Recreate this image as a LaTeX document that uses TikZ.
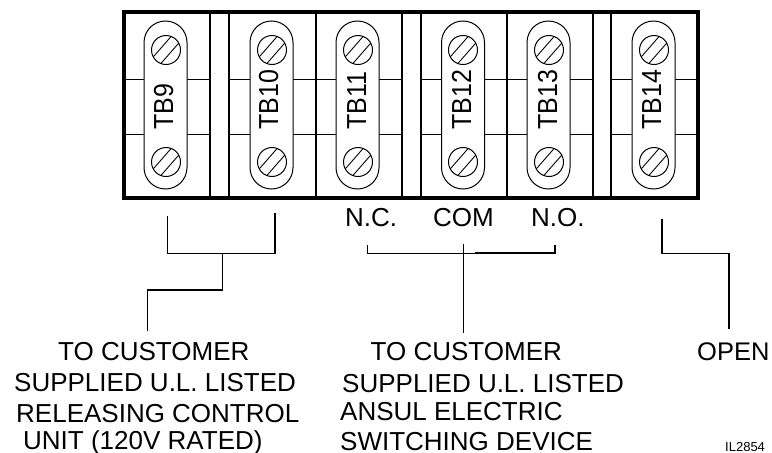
\documentclass[tikz,border=0pt]{standalone}
\usepackage{fontspec}
\setmainfont{Liberation Sans}
\tikzset{
  frameline/.style={line width=4pt},
  divider/.style={line width=1.4pt},
  rowline/.style={line width=1pt},
  wire/.style={line width=1.3pt},
  strap/.style={draw,fill=white,line width=1pt,minimum width=43pt,minimum height=168pt,inner sep=0pt,rounded corners=21.5pt},
  screw/.style={circle,draw,line width=1pt,minimum size=29pt,inner sep=0pt,
    path picture={
      \draw[line width=0.9pt] ([xshift=-3.9pt,yshift=3.2pt]path picture bounding box.center) ++(-14pt,-16pt) -- ++(28pt,32pt);
      \draw[line width=0.9pt] ([xshift=3.9pt,yshift=-3.2pt]path picture bounding box.center) ++(-14pt,-16pt) -- ++(28pt,32pt);
    }},
  tblabel/.style={rotate=90,yscale=1.1,transform shape,anchor=base west,inner sep=0pt,font=\fontsize{25}{28}\selectfont},
  txt/.style={anchor=base west,inner sep=0pt,font=\fontsize{26}{28}\selectfont},
}
\begin{document}
\begin{tikzpicture}[x=1pt,y=-1pt]
\useasboundingbox (0,0) rectangle (772,453);

% rows and dividers
\draw[rowline] (123.5,79.5) -- (210,79.5);
\draw[rowline] (229,79.5) -- (402,79.5);
\draw[rowline] (421,79.5) -- (593,79.5);
\draw[rowline] (611,79.5) -- (698,79.5);
\draw[rowline] (123.5,134) -- (210,134);
\draw[rowline] (229,134) -- (402,134);
\draw[rowline] (421,134) -- (593,134);
\draw[rowline] (611,134) -- (698,134);
\draw[divider] (210,12) -- (210,197.5);
\draw[divider] (229,12) -- (229,197.5);
\draw[divider] (316,12) -- (316,197.5);
\draw[divider] (402,12) -- (402,197.5);
\draw[divider] (421,12) -- (421,197.5);
\draw[divider] (507,12) -- (507,197.5);
\draw[divider] (593,12) -- (593,197.5);
\draw[divider] (611,12) -- (611,197.5);
\draw[frameline] (123.5,12) rectangle (698,197.5);

% straps
\node[strap] (tb9) at (165.5,105) {};
\node[strap] (tb10) at (271.5,105) {};
\node[strap] (tb11) at (357.5,105) {};
\node[strap] (tb12) at (463,105) {};
\node[strap] (tb13) at (548.5,105) {};
\node[strap] (tb14) at (653.5,105) {};

\node[screw] (tb9top) at (166,50) {};
\node[screw] (tb9bot) at (166,162) {};
\node[screw] (tb10top) at (272,50) {};
\node[screw] (tb10bot) at (272,162) {};
\node[screw] (tb11top) at (358,50) {};
\node[screw] (tb11bot) at (358,162) {};
\node[screw] (tb12top) at (463,50) {};
\node[screw] (tb12bot) at (463,162) {};
\node[screw] (tb13top) at (549,50) {};
\node[screw] (tb13bot) at (549,162) {};
\node[screw] (tb14top) at (654,50) {};
\node[screw] (tb14bot) at (654,162) {};

\node[tblabel] (tb9txt) at (173,130) {TB9};
\node[tblabel] (tb10txt) at (278,130) {TB10};
\node[tblabel] (tb11txt) at (366,130) {TB11};
\node[tblabel] (tb12txt) at (471,130) {TB12};
\node[tblabel] (tb13txt) at (557,130) {TB13};
\node[tblabel] (tb14txt) at (661,130) {TB14};

% contact names
\node[txt] (nc) at (345,226.7) {N.C.};
\node[txt] (com) at (433,226.7) {COM};
\node[txt] (no) at (531,226.7) {N.O.};

% wire ends
\coordinate (relayl) at (167.7,216);
\coordinate (relayr) at (275,213.3);
\coordinate (relayj) at (222.7,253.3);
\coordinate (relayend) at (147.7,331);
\coordinate (ncend) at (367.7,245);
\coordinate (noend) at (555,245);
\coordinate (comtop) at (463.3,244);
\coordinate (comend) at (463.3,332.7);
\coordinate (opentop) at (662,219);
\coordinate (openend) at (729,328.7);

\draw[wire] (relayl) -- ++(0,37.3) -| (relayr);
\draw[wire] (relayj) -- ++(0,36.7) -| (relayend);
\draw[wire] (ncend) -- ++(0,8.3) -| (noend);
\draw[line width=2pt] (475,253.3) -- (555,253.3);
\draw[wire] (comtop) -- (comend);
\draw[wire] (opentop) -- ++(0,34.7) -| (openend);

% notes
\node[txt] (left1) at (58,360) {TO CUSTOMER};
\node[txt] (left2) at (14,391.7) {SUPPLIED U.L. LISTED};
\node[txt] (left3) at (16,422) {RELEASING CONTROL};
\node[txt] (left4) at (23,449) {UNIT (120V RATED)};

\node[txt] (mid1) at (370.5,360) {TO CUSTOMER};
\node[txt] (mid2) at (342,392.7) {SUPPLIED U.L. LISTED};
\node[txt] (mid3) at (340,420.7) {ANSUL ELECTRIC};
\node[txt] (mid4) at (340,450) {SWITCHING DEVICE};

\node[txt,font=\fontsize{25.5}{28}\selectfont] (open) at (697,360) {OPEN};
\node[anchor=base west,inner sep=0pt,font=\fontsize{13}{15}\selectfont] (ilnum) at (725,451) {IL2854};
\end{tikzpicture}
\end{document}
